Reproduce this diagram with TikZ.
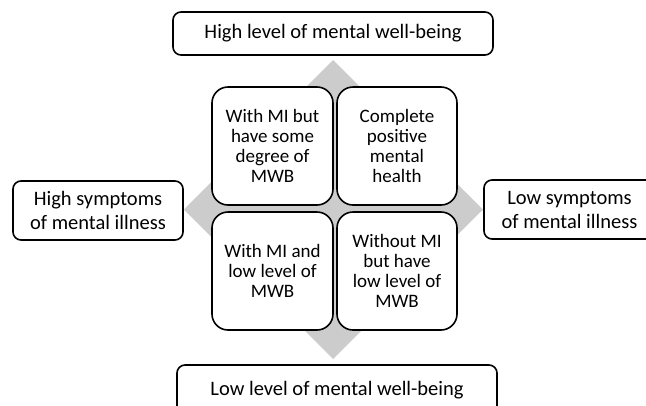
\documentclass[tikz,border=0pt]{standalone}
\usepackage{fontspec}
\setmainfont{Carlito}
\begin{document}
\begin{tikzpicture}[x=1pt,y=-1pt,
  outerbox/.style={draw=black, line width=1.6pt, rounded corners=8pt, fill=white,
    inner sep=0pt, align=center, font=\fontsize{20.5}{24}\selectfont},
  quadbox/.style={draw=black, line width=1.6pt, rounded corners=16pt, fill=white,
    inner sep=0pt, align=center, minimum width=121pt, minimum height=118pt,
    font=\fontsize{19}{20}\selectfont},
  diamondfill/.style={fill=black!20}]
\useasboundingbox (0,0) rectangle (646,405);
\clip (0,0) rectangle (646,405);
% grey diamond behind the four quadrants
\fill[diamondfill] (333,60) -- (483,209.5) -- (333,359) -- (184,209.5) -- cycle;
% quadrants
\node[quadbox] (tl) at (272.5,146) {With MI but\\have some\\degree of\\MWB};
\node[quadbox, minimum width=120pt] (tr) at (397,146) {Complete\\positive\\mental\\health};
\node[quadbox] (bl) at (272.5,271) {With MI and\\low level of\\MWB};
\node[quadbox, minimum width=120pt] (br) at (397,271) {Without MI\\but have\\low level of\\MWB};
% axis labels
\node[outerbox, minimum width=320pt, minimum height=43pt] (top) at (333,33.5) {High level of mental well-being};
\node[outerbox, minimum width=170pt, minimum height=59pt] (left) at (98,210.5) {High symptoms\\of mental illness};
\node[outerbox, minimum width=176pt, minimum height=59pt] (right) at (572,209.5) {\hspace*{-5pt}Low symptoms\\\hspace*{-5pt}of mental illness};
\node[outerbox, minimum width=320pt, minimum height=55pt] (bottom) at (337,392.5) {\raisebox{9pt}{Low level of mental well-being}};
\end{tikzpicture}
\end{document}
